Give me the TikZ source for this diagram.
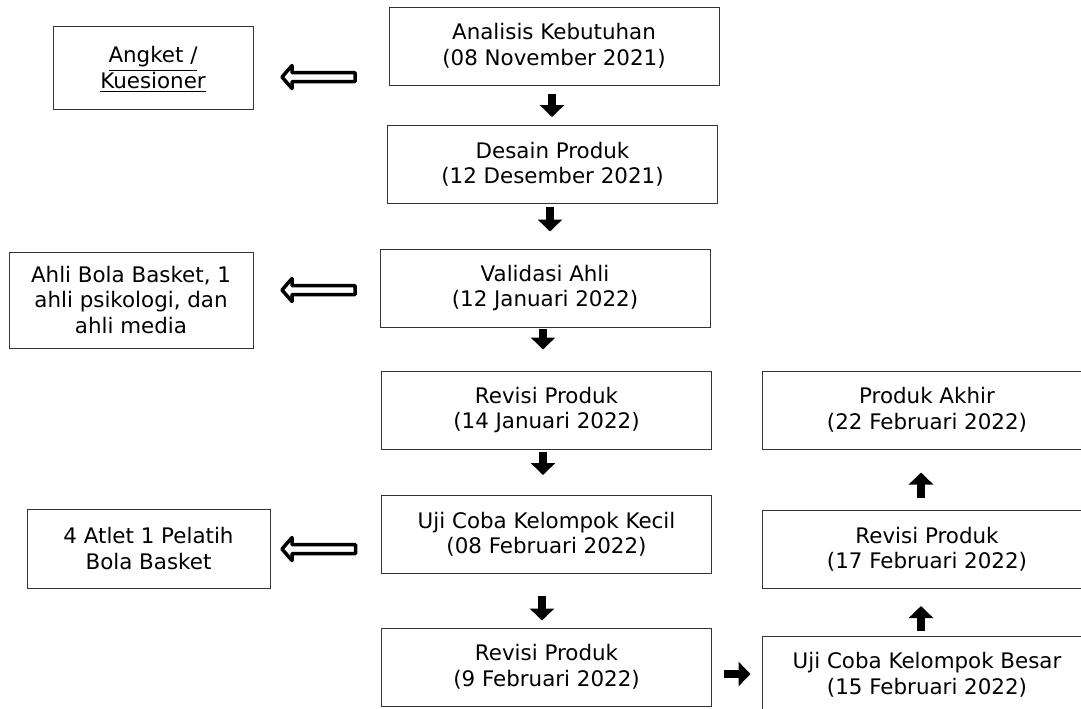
\documentclass[tikz,border=0pt]{standalone}
\usepackage{fontspec}
\setmainfont{DejaVu Sans}
\usetikzlibrary{arrows.meta,calc}

\begin{document}
\begin{tikzpicture}[
  x=0.5pt, y=-0.5pt,
  font={\fontsize{10.7}{12.75}\selectfont},
  box/.style={draw=black!80, line width=0.5pt, inner sep=0pt, align=center, minimum height=39pt},
  stage/.style={box, minimum width=165pt},
  blk/.style={-{Triangle[width=12pt,length=6pt]}, line width=4pt},
  hollow/.style={draw, line width=1.75pt, line join=round,
    to path={let \p1=(\tikztostart), \p2=(\tikztotarget) in
      (\x1,\y1+2.25pt) -- (\x2+5pt,\y1+2.25pt) -- (\x2+5pt,\y1+5.75pt) -- (\x2,\y1)
      -- (\x2+5pt,\y1-5.75pt) -- (\x2+5pt,\y1-2.25pt) -- (\x1,\y1-2.25pt) -- cycle}}
]
\useasboundingbox (0,0) rectangle (1081,708);
\clip (0,0) rectangle (1081,708);
\foreach \nm/\x/\y/\txt in {
  analisis/554/46/{Analisis Kebutuhan\\(08 November 2021)},
  desain/552.5/164.5/{Desain Produk\\(12 Desember 2021)},
  validasi/545/288/{Validasi Ahli\\(12 Januari 2022)},
  revisia/546.5/410/{Revisi Produk\\(14 Januari 2022)},
  ujikecil/546.5/534.5/{Uji Coba Kelompok Kecil\\(08 Februari 2022)},
  revisib/546.5/667/{Revisi Produk\\(9 Februari 2022)},
  akhir/927/410/{Produk Akhir\\(22 Februari 2022)},
  revisic/927/549.5/{Revisi Produk\\(17 Februari 2022)},
  ujibesar/927/675/{Uji Coba Kelompok Besar\\(15 Februari 2022)}} {
  \node[stage] (\nm) at (\x,\y) {\txt};
}
\node[box, minimum width=100pt, minimum height=41.5pt] (angket) at (153,67.5)
  {\underline{Angket /}\\\raisebox{0pt}[\height][0pt]{\underline{Kuesioner}}};
\node[box, minimum width=122pt, minimum height=48pt] (ahli) at (131,300)
  {Ahli Bola Basket, 1\\ahli psikologi, dan\\ahli media};
\node[box, minimum width=121.5pt, minimum height=39.5pt] (atlet) at (148.5,548.5)
  {4 Atlet 1 Pelatih\\Bola Basket};

\draw[blk, shorten <=4pt, shorten >=4pt] ([xshift=-1pt]analisis.south) -- ([xshift=-1pt]analisis.south |- desain.north);
\draw[blk, shorten <=1.5pt, shorten >=8.5pt] ([xshift=-1.25pt]desain.south) -- ([xshift=-1.25pt]desain.south |- validasi.north);
\draw[blk, shorten <=0.5pt, shorten >=10.5pt] ([xshift=-1pt]validasi.south) -- ([xshift=-1pt]validasi.south |- revisia.north);
\draw[blk, shorten <=1pt, shorten >=10pt] ([xshift=-1.75pt]revisia.south) -- ([xshift=-1.75pt]ujikecil.north);
\draw[blk, shorten <=11pt, shorten >=3.5pt] ([xshift=-2.25pt]ujikecil.south) -- ([xshift=-2.25pt]revisib.north);
\draw[blk, shorten <=6pt, shorten >=5.5pt] ([yshift=-3.5pt]revisib.east) -- ([yshift=-3.5pt]revisib.east -| ujibesar.west);
\draw[blk, shorten <=2.5pt, shorten >=8.5pt] ([xshift=-3pt]ujibesar.north) -- ([xshift=-3pt]revisic.south);
\draw[blk, shorten <=6pt, shorten >=11.5pt] ([xshift=-3pt]revisic.north) -- ([xshift=-3pt]akhir.south);

\draw[hollow] ([shift={(-16.75pt,-15.5pt)}]analisis.west) to ([xshift=14.25pt]angket.east);
\draw[hollow] ([shift={(-12.25pt,-1pt)}]validasi.west) to ([xshift=14.25pt]ahli.east);
\draw[hollow] ([shift={(-12.75pt,-7.25pt)}]ujikecil.west) to ([xshift=5.75pt]atlet.east);
\end{tikzpicture}
\end{document}
